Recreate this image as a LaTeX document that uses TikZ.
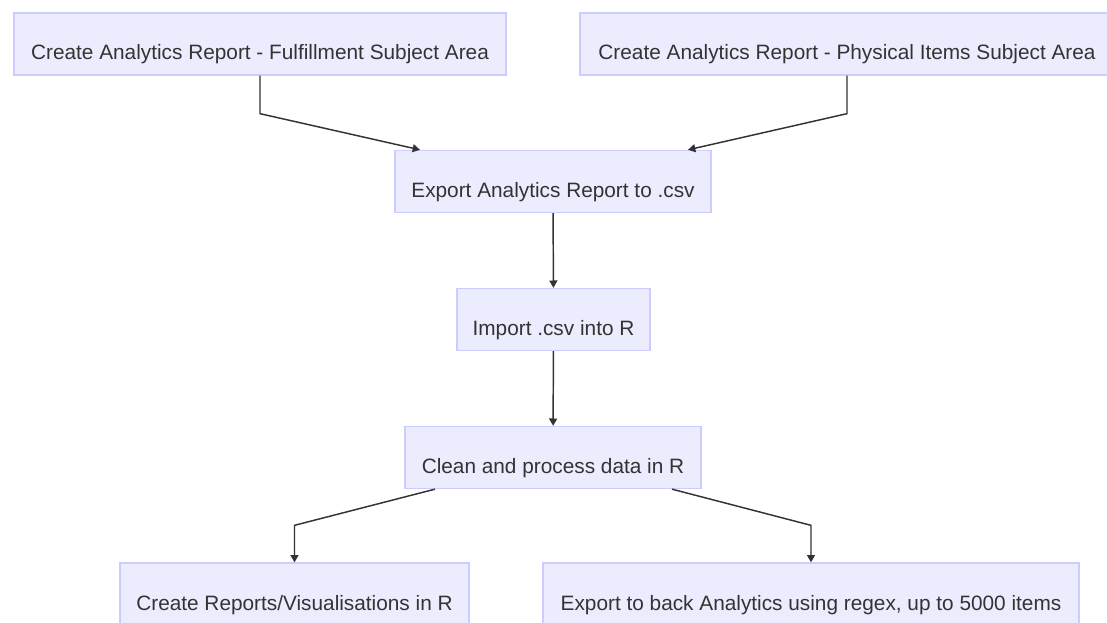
\documentclass[tikz,border=0pt]{standalone}
\usepackage{fontspec}
\setmainfont{Liberation Sans}
\usetikzlibrary{arrows.meta,calc}
\definecolor{boxfill}{HTML}{ECECFF}
\definecolor{boxline}{HTML}{CCCCFF}
\definecolor{ink}{HTML}{333333}

\begin{document}
\begin{tikzpicture}[x=0.75pt, y=-0.75pt,
	task/.style={shape=rectangle, draw=boxline, fill=boxfill, line width=1pt, text=ink,
		inner xsep=0pt, inner ysep=0pt, text height=35.25pt, text depth=11.25pt,
		font=\fontsize{15.6}{18}\selectfont},
	flow/.style={draw=ink, line width=1.1pt, -{Triangle[length=5.5pt,width=6pt]}}]
	\clip (0,0) rectangle (1107,623);

	\node[task, minimum width=369pt]    (fulfil)   at (260,44)    {Create Analytics Report - Fulfillment Subject Area};
	\node[task, minimum width=400.5pt]  (physical) at (847,44)    {Create Analytics Report - Physical Items Subject Area};
	\node[task, minimum width=237pt]    (export)   at (553,181.5) {Export Analytics Report to .csv};
	\node[task, minimum width=144.75pt] (import)   at (553.5,319.5) {Import .csv into R};
	\node[task, minimum width=222pt]    (clean)    at (553,457.5) {Clean and process data in R};
	\node[task, minimum width=261.75pt] (reports)  at (294.5,594) {Create Reports/Visualisations in R};
	\node[task, minimum width=402pt]    (back)     at (811,594)   {Export to back Analytics using regex, up to 5000 items};

	\draw [flow] (fulfil.south)   -- ++(0,38) -- ($(export.north)+(-133,0)$);
	\draw [flow] (physical.south) -- ++(0,38) -- ($(export.north)+(135,0)$);
	\draw [flow] (export)  -- (import);
	\draw [flow] (import)  -- (clean);
	\draw [flow] ($(clean.south)+(-118,0)$) -- ($(reports.north)+(0,-37)$) -- (reports.north);
	\draw [flow] ($(clean.south)+(119,0)$)  -- ($(back.north)+(0,-37)$)    -- (back.north);
\end{tikzpicture}
\end{document}
